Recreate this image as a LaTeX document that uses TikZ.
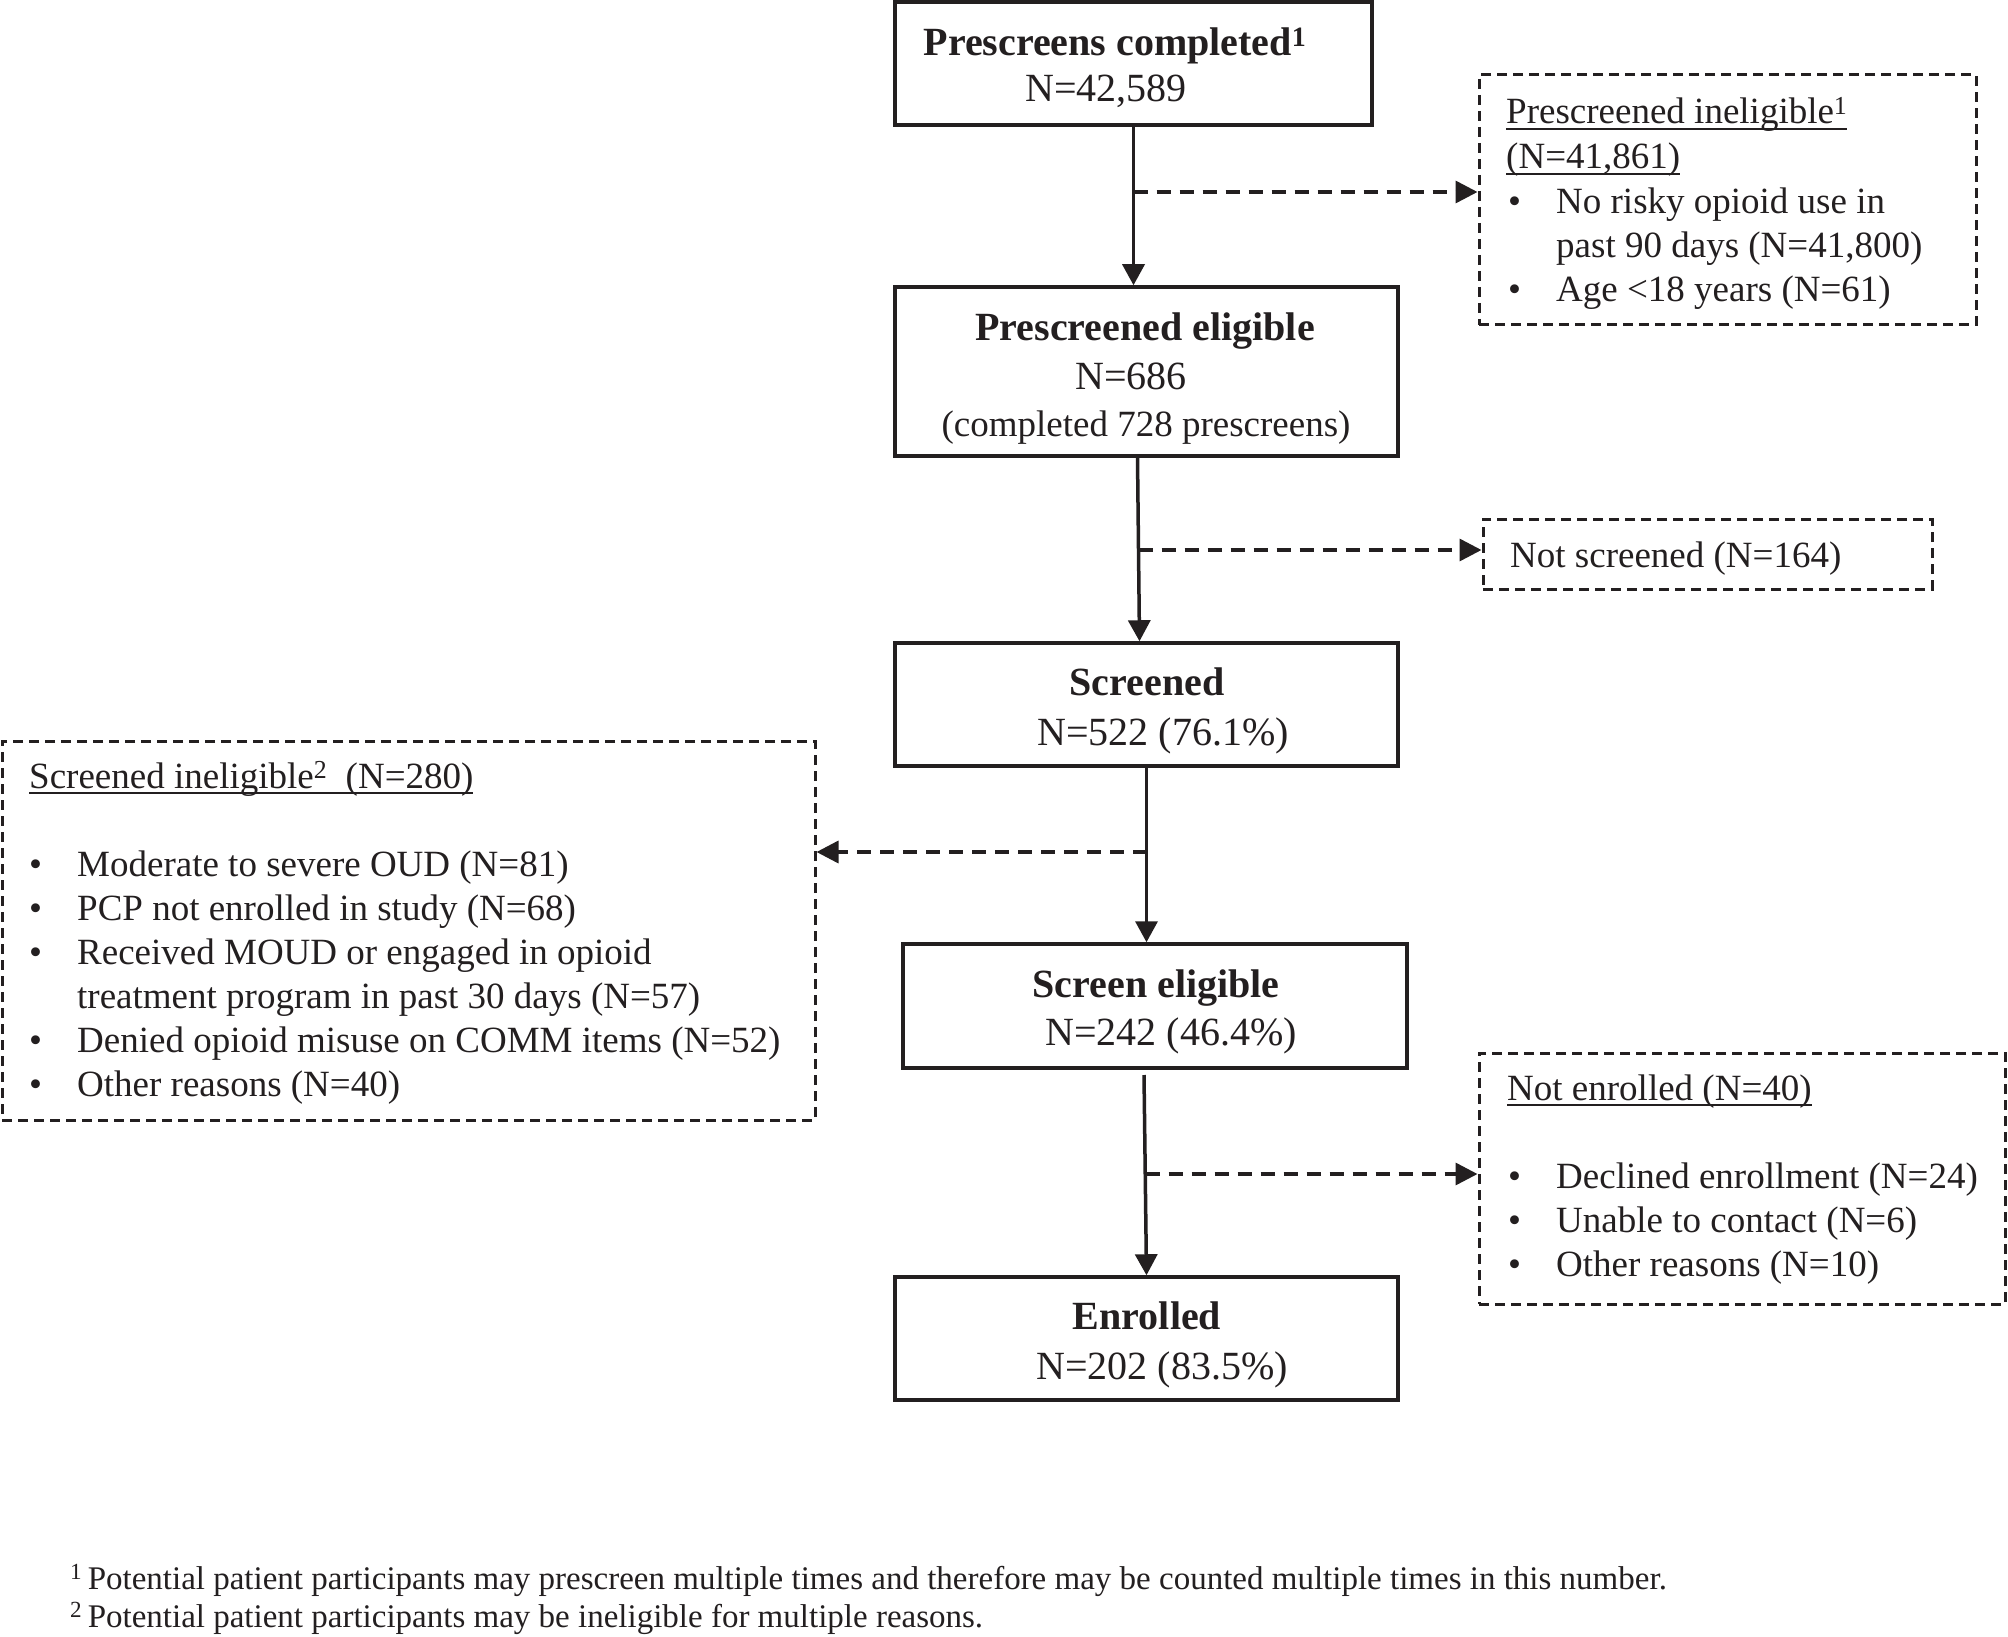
\documentclass[tikz,border=0pt]{standalone}
\usepackage{fontspec}
\setmainfont{Liberation Serif}
\usetikzlibrary{arrows.meta}
\definecolor{ink}{HTML}{231F20}
\newcommand{\ulx}[1]{\setbox0=\hbox{#1}\rlap{\color{ink}\rule[-6pt]{\wd0}{2pt}}\box0}
\newcommand{\bul}{\makebox[48pt][l]{•}}
\begin{document}
\begin{tikzpicture}[x=1pt,y=-1pt,
  mbox/.style={draw=ink, line width=3.5pt, inner sep=0pt},
  dbox/.style={draw=ink, line width=3pt, dash pattern=on 10pt off 6pt, inner sep=0pt},
  conn/.style={draw=ink, line width=3.5pt, -{Triangle[length=21pt,width=22pt]}},
  dconn/.style={draw=ink, line width=3.5pt, dash pattern=on 14pt off 9pt, -{Triangle[length=22pt,width=22pt]}},
  btxt/.style={text=ink, inner sep=0pt, anchor=base, font=\fontsize{40}{48}\selectfont\bfseries},
  mtxt/.style={text=ink, inner sep=0pt, anchor=base, font=\fontsize{40}{48}\selectfont},
  stxt/.style={text=ink, inner sep=0pt, anchor=base west, font=\fontsize{37}{42}\selectfont},
  ftxt/.style={text=ink, inner sep=0pt, anchor=base west, font=\fontsize{33}{38}\selectfont}]
\useasboundingbox[fill=white] (0,0) rectangle (2008,1637);

% main boxes
\node[mbox, minimum width=477pt, minimum height=123pt] (a) at (1133.5,63.5) {};
\node[mbox, minimum width=503pt, minimum height=169pt] (b) at (1146.5,371.5) {};
\node[mbox, minimum width=503pt, minimum height=123pt] (d) at (1146.5,704.5) {};
\node[mbox, minimum width=504pt, minimum height=124pt] (f) at (1155,1006) {};
\node[mbox, minimum width=503pt, minimum height=123pt] (h) at (1146.5,1338.5) {};

% side boxes
\node[dbox, minimum width=497pt, minimum height=250pt] (c) at (1727.5,200) {};
\node[dbox, minimum width=449pt, minimum height=70pt] (e) at (1707.5,554) {};
\node[dbox, minimum width=813pt, minimum height=379pt] (g) at (408.5,930.5) {};
\node[dbox, minimum width=526pt, minimum height=251pt] (i) at (1742,1178.5) {};

% main texts
\node[btxt] (a1) at (1115,56) {Prescreens completed\textsuperscript{1}};
\node[mtxt] (a2) at (1106,102) {N=42,589};
\node[btxt] (b1) at (1145,341) {Prescreened eligible};
\node[mtxt] (b2) at (1131,389) {N=686};
\node[stxt, anchor=base, font=\fontsize{37}{42}\selectfont] (b3) at (1146,436) {(completed 728 prescreens)};
\node[btxt] (d1) at (1147,695) {Screened};
\node[mtxt] (d2) at (1163,745) {N=522 (76.1\%)};
\node[btxt] (f1) at (1156,997) {Screen eligible};
\node[mtxt] (f2) at (1171,1045) {N=242 (46.4\%)};
\node[btxt] (h1) at (1147,1329) {Enrolled};
\node[mtxt] (h2) at (1162,1379) {N=202 (83.5\%)};

% box C text
\node[stxt] (c1) at (1506,124) {\ulx{Prescreened ineligible\textsuperscript{1}}};
\node[stxt] (c2) at (1506,169) {\ulx{(N=41,861)}};
\node[stxt] (c3) at (1508,214) {\bul No risky opioid use in};
\node[stxt] (c4) at (1556,258) {past 90 days (N=41,800)};
\node[stxt] (c5) at (1508,302) {\bul Age <18 years (N=61)};

% box E text
\node[stxt] (e1) at (1510,567) {Not screened (N=164)};

% box G text
\node[stxt] (g1) at (29,788) {\ulx{Screened ineligible\textsuperscript{2}\ \ (N=280)}};
\node[stxt] (g2) at (29,876) {\bul Moderate to severe OUD (N=81)};
\node[stxt] (g3) at (29,920) {\bul PCP not enrolled in study (N=68)};
\node[stxt] (g4) at (29,964) {\bul Received MOUD or engaged in opioid};
\node[stxt] (g5) at (77,1008) {treatment program in past 30 days (N=57)};
\node[stxt] (g6) at (29,1052) {\bul Denied opioid misuse on COMM items (N=52)};
\node[stxt] (g7) at (29,1096) {\bul Other reasons (N=40)};

% box I text
\node[stxt] (i1) at (1507,1100) {\ulx{Not enrolled (N=40)}};
\node[stxt] (i2) at (1508,1188) {\bul Declined enrollment (N=24)};
\node[stxt] (i3) at (1508,1232) {\bul Unable to contact (N=6)};
\node[stxt] (i4) at (1508,1276) {\bul Other reasons (N=10)};

% footnotes
\node[ftxt] (fn1) at (70,1589) {\textsuperscript{1}\,Potential patient participants may prescreen multiple times and therefore may be counted multiple times in this number.};
\node[ftxt] (fn2) at (70,1627) {\textsuperscript{2}\,Potential patient participants may be ineligible for multiple reasons.};

% connectors
\draw[conn] (a.south) -- (a.south |- b.north);
\coordinate (j1) at (1133.5,192);
\draw[dconn] (j1) -- (j1 -| c.west);

\draw[conn] ([xshift=-9pt]b.south) -- ([xshift=-7pt]d.north);
\coordinate (j2) at (1138.5,550);
\draw[dconn] (j2) -- (j2 -| e.west);

\draw[conn] (d.south) -- (d.south |- f.north);
\coordinate (j3) at (1146.5,852);
\draw[dconn] (j3) -- (j3 -| g.east);

\coordinate (fh) at (1144,1075);
\draw[conn] (fh) -- (h.north);
\coordinate (j4) at (1145.5,1174);
\draw[dconn] (j4) -- (j4 -| i.west);
\end{tikzpicture}
\end{document}
